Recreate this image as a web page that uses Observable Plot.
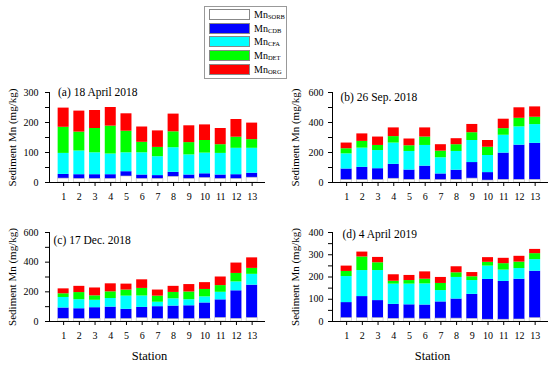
<!DOCTYPE html>
<html><head><meta charset="utf-8">
<script src="https://cdn.jsdelivr.net/npm/d3@7"></script>
<script src="https://cdn.jsdelivr.net/npm/@observablehq/plot@0.6"></script>
<style>
body{margin:0;background:#fff;}
#chart{position:relative;width:550px;height:365px;overflow:hidden;font-family:"Liberation Serif","Times New Roman",serif;background:#fff;}
.panel{position:absolute;}
#legend{position:absolute;left:204px;top:6px;width:83px;height:73px;border:1px solid #999;box-sizing:border-box;background:#fff;}
.sw{position:absolute;left:4px;width:41px;height:11px;box-sizing:border-box;border:0.6px solid #888;}
.lb{position:absolute;left:49px;font-size:10px;line-height:11px;color:#000;white-space:nowrap;}
.lb sub{font-size:6.5px;vertical-align:-1px;}
</style></head>
<body><div id="chart"><div id="legend"></div></div>
<script>
const stations = [1,2,3,4,5,6,7,8,9,10,11,12,13];
const comps = ["SORB","CDB","CFA","DET","ORG"];
const compColors = ["#ffffff","#0000ff","#00ffff","#00ff00","#ff0000"];

// (a) 18 April 2018
const aSORB = [13,12,12,12,20,12,12,19,12,15,12,12,16];
const aCDB  = [14,14,14,14,16,13,11,15,13,14,13,14,15];
const aCFA  = [70,79,73,69,63,74,63,82,67,69,72,88,83];
const aDET  = [87,63,81,93,72,35,31,53,41,42,29,37,29];
const aORG  = [64,70,60,62,58,51,55,59,56,52,54,59,55];
// (b) 26 Sep. 2018
const bSORB = [16,16,16,25,18,18,16,18,26,13,18,18,18];
const bCDB  = [74,85,76,96,65,91,41,64,107,53,178,231,243];
const bCFA  = [101,128,121,142,124,138,108,125,147,114,119,122,125];
const bDET  = [34,45,34,43,38,56,44,45,52,55,44,57,49];
const bORG  = [38,50,56,58,45,61,43,40,55,45,63,70,69];
// (c) 17 Dec. 2018
const cSORB = [18,17,17,17,17,22,17,15,17,17,24,18,23];
const cCDB  = [73,69,76,80,65,73,83,89,89,108,122,189,222];
const cCFA  = [71,61,50,58,89,77,30,49,41,41,51,60,73];
const cDET  = [25,48,30,45,41,51,41,43,52,50,45,57,40];
const cORG  = [33,42,53,54,40,58,41,41,50,46,58,70,71];
// (d) 4 April 2019
const dSORB = [15,15,15,12,13,10,13,13,12,8,8,9,15];
const dCDB  = [70,97,79,65,62,64,75,88,110,181,172,181,211];
const dCFA  = [117,117,135,91,93,95,51,97,62,60,51,48,52];
const dDET  = [23,61,35,13,16,21,32,21,17,17,29,29,27];
const dORG  = [24,22,24,29,23,33,27,27,19,21,24,26,19];

const titles = ["(a) 18 April 2018","(b) 26 Sep. 2018","(c) 17 Dec. 2018","(d) 4 April 2019"];
const yLabel = "Sediment Mn (mg/kg)";
const xLabel = "Station";

function buildRows(series){
  const rows = [];
  stations.forEach((s,i)=>{
    let acc = 0;
    comps.forEach((c,k)=>{
      const v = series[k][i];
      rows.push({station:s, comp:c, y1:acc, y2:acc+v});
      acc += v;
    });
  });
  return rows;
}

function makePanel(o){
  const rows = buildRows(o.series);
  const ticks = d3.range(0, o.ymax + 1e-9, o.tickStep);
  const marks = [
    Plot.rectY(rows, {x1: d=>d.station-0.35, x2: d=>d.station+0.35, y1:"y1", y2:"y2", fill:"comp"}),
    Plot.rectY(rows.filter(d=>d.comp==="SORB"), {x1: d=>d.station-0.35, x2: d=>d.station+0.35, y1:"y1", y2:"y2", fill:"none", stroke:"#bbb", strokeWidth:0.6}),
    Plot.ruleY([0], {stroke:"#000", strokeWidth:1}),
    Plot.ruleX([0.1], {stroke:"#000", strokeWidth:1}),
    Plot.axisY({ticks, tickSize:4, tickPadding:o.tickPad, tickFormat: d => d % o.labelStep === 0 ? d : "", label:null, fontSize:10}),
    Plot.axisX({ticks: stations, tickSize:4, tickPadding:6, label:null, fontSize:10}),
    Plot.text([o.title], {frameAnchor:"top-left", textAnchor:"start", lineAnchor:"bottom", dx:o.tdx, dy:o.tdy, fontSize:11.5, fill:"#000"}),
    Plot.text([yLabel], {frameAnchor:"left", textAnchor:"middle", lineAnchor:"middle", rotate:-90, dx:-37, fontSize:11, fill:"#000"})
  ];
  if (o.station) marks.push(Plot.text([xLabel], {frameAnchor:"bottom", textAnchor:"middle", lineAnchor:"middle", dx:-8, dy:34, fontSize:12.5, fill:"#000"}));
  const svg = Plot.plot({
    width:275, height:o.height,
    marginTop:o.mt, marginBottom:o.mb, marginLeft:o.ml, marginRight:o.mr,
    style:{fontFamily:'"Liberation Serif","Times New Roman",serif', fontSize:"10px", background:"transparent", color:"#000", overflow:"visible"},
    x:{type:"linear", domain:[0.1,13.85]},
    y:{domain:[0,o.ymax]},
    color:{domain:comps, range:compColors},
    marks
  });
  const div = document.createElement("div");
  div.className = "panel";
  div.style.left = o.left+"px"; div.style.top = o.top+"px";
  div.appendChild(svg);
  document.getElementById("chart").appendChild(div);
}

makePanel({left:0, top:80, height:130, mt:12, mb:28, ml:49, mr:10, ymax:300, tickStep:50, labelStep:100, tickPad:7,
  title:titles[0], tdx:8.5, tdy:3.5, series:[aSORB,aCDB,aCFA,aDET,aORG]});
makePanel({left:275, top:80, height:130, mt:12, mb:28, ml:57, mr:2, ymax:600, tickStep:100, labelStep:200, tickPad:5,
  title:titles[1], tdx:8, tdy:8, series:[bSORB,bCDB,bCFA,bDET,bORG]});
makePanel({left:0, top:220, height:145, mt:12, mb:44, ml:49, mr:10, ymax:600, tickStep:100, labelStep:200, tickPad:7,
  title:titles[2], tdx:4, tdy:11, series:[cSORB,cCDB,cCFA,cDET,cORG], station:true});
makePanel({left:275, top:220, height:145, mt:12, mb:44, ml:57, mr:2, ymax:400, tickStep:50, labelStep:100, tickPad:5,
  title:titles[3], tdx:10, tdy:5, series:[dSORB,dCDB,dCFA,dDET,dORG], station:true});

// legend
const leg = document.getElementById("legend");
comps.forEach((c,k)=>{
  const top = 2 + k*13.7;
  const sw = document.createElement("div");
  sw.className = "sw"; sw.style.top = top+"px"; sw.style.background = compColors[k];
  leg.appendChild(sw);
  const lb = document.createElement("div");
  lb.className = "lb"; lb.style.top = (top)+"px";
  lb.innerHTML = "Mn<sub>" + c + "</sub>";
  leg.appendChild(lb);
});
</script></body></html>
